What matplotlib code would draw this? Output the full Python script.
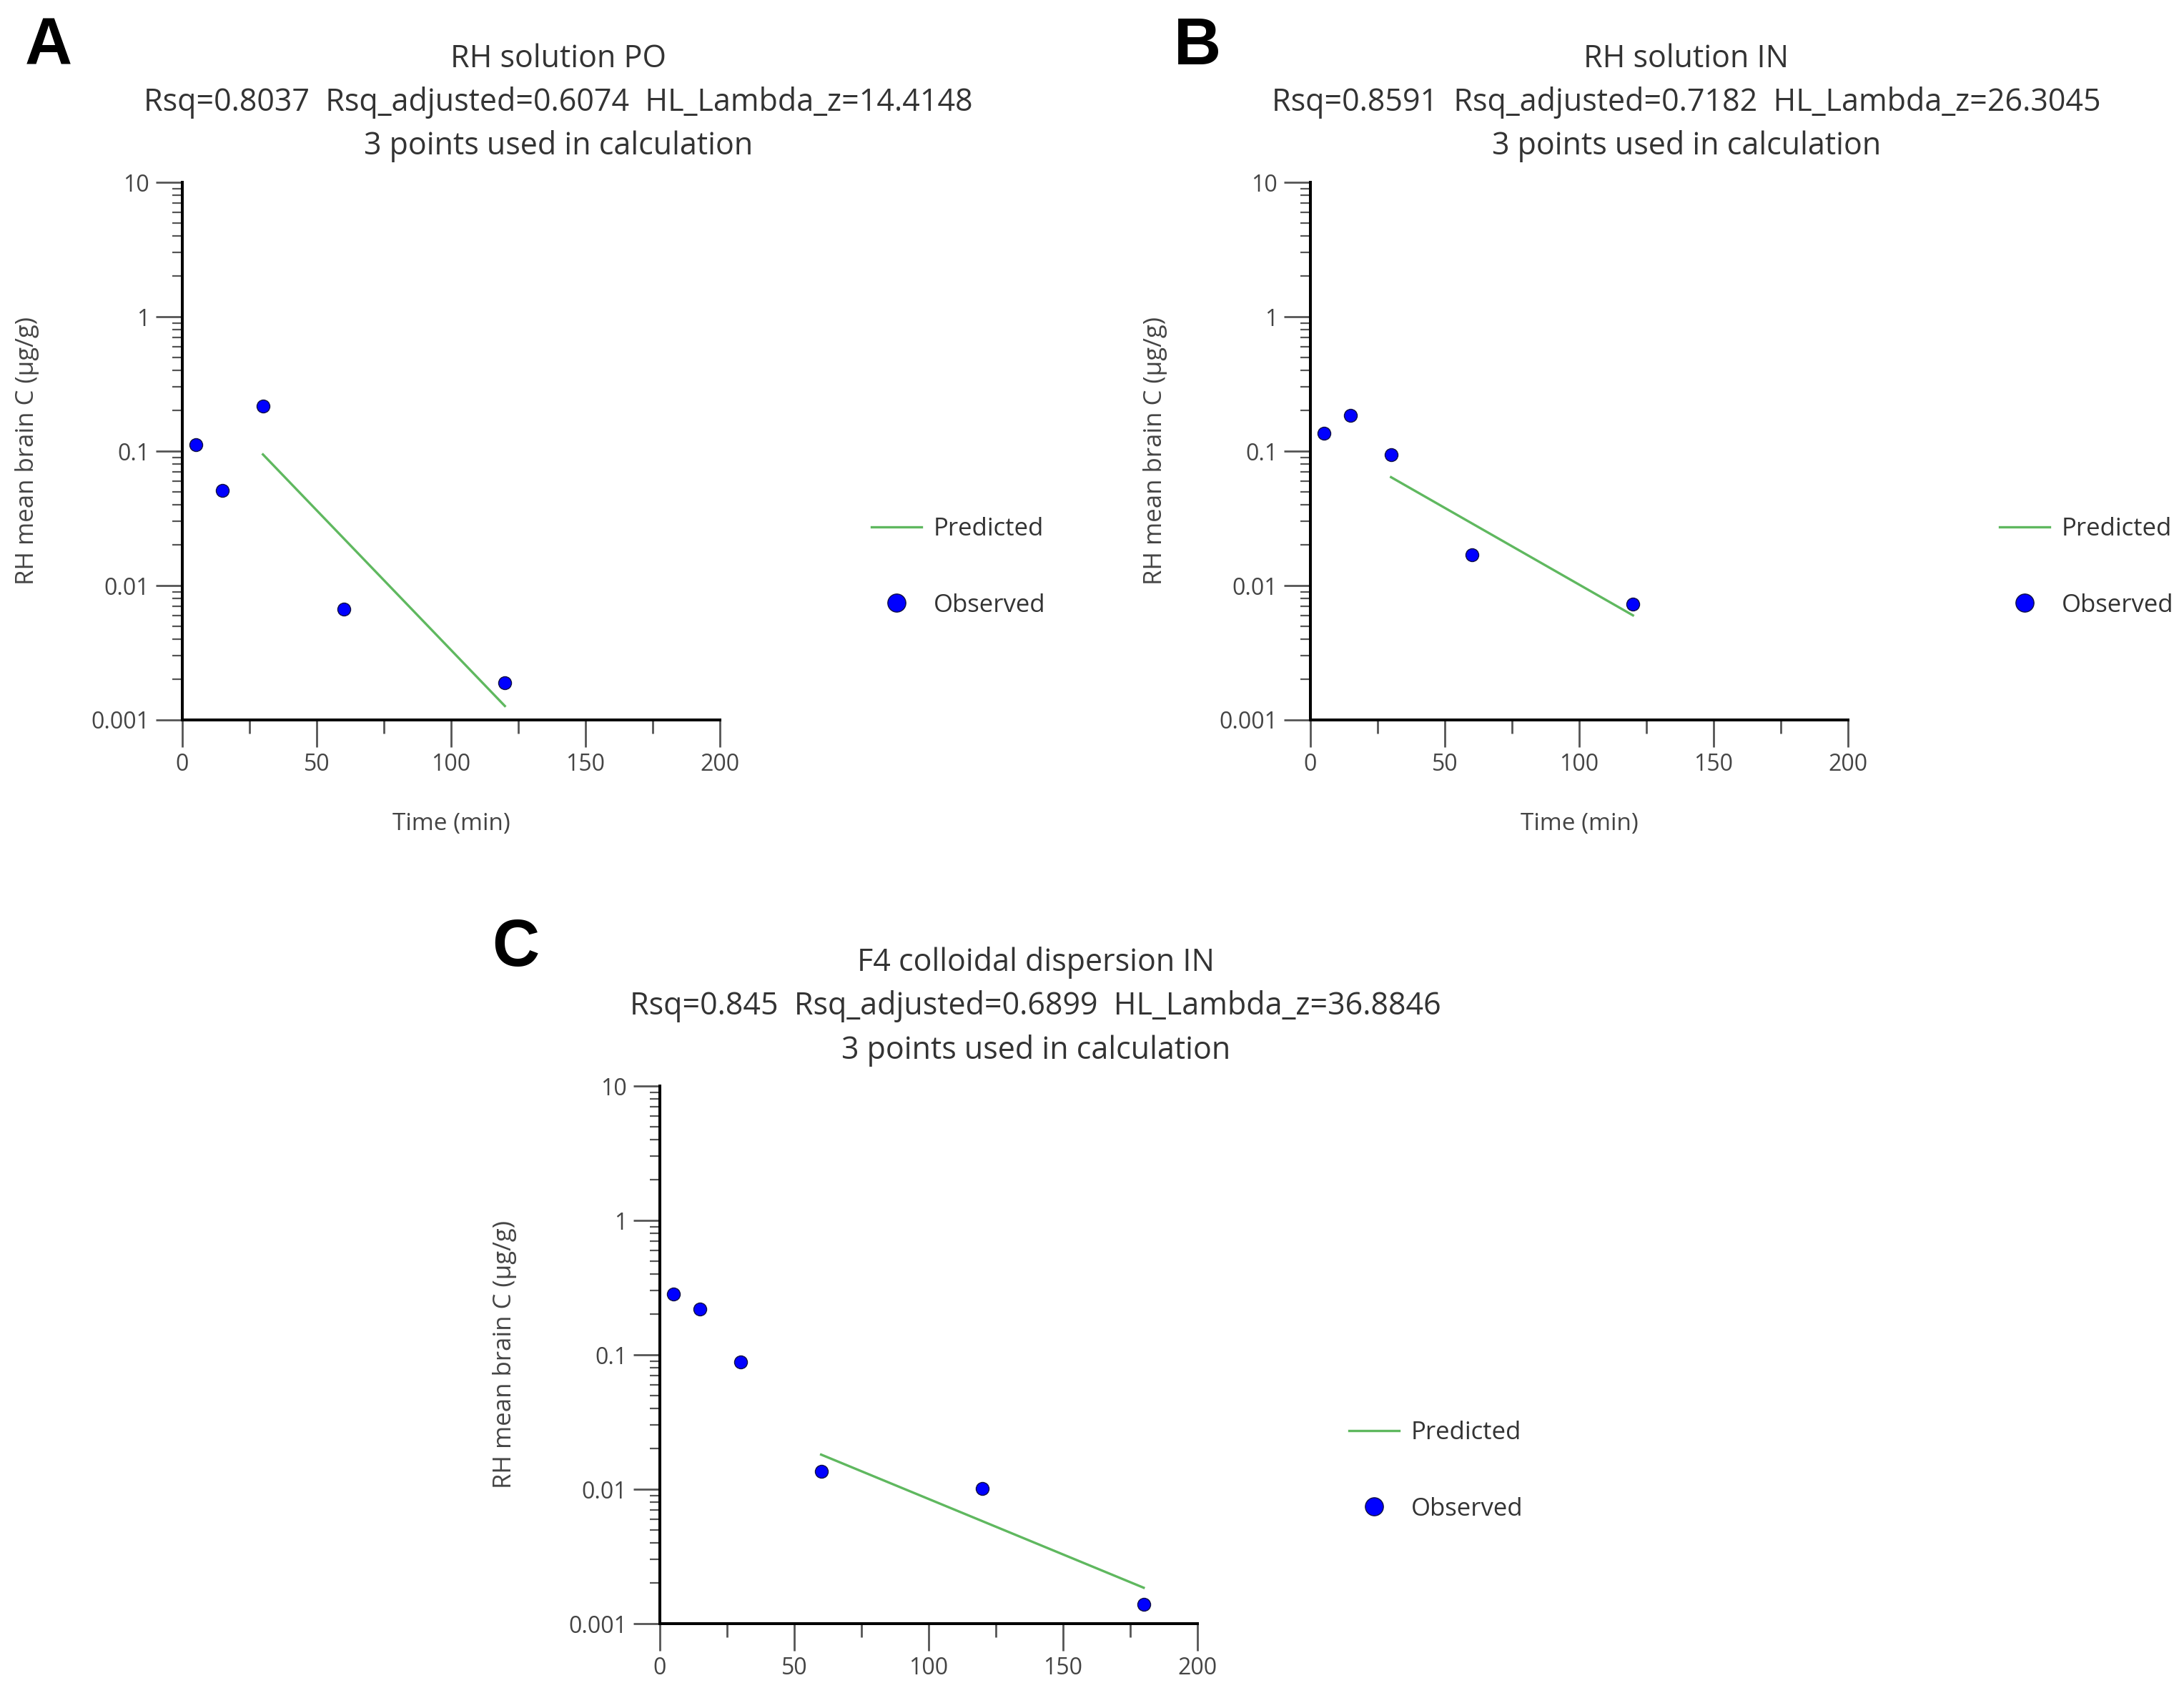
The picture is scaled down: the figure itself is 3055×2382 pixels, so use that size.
import numpy as np
import matplotlib
matplotlib.use("Agg")
import matplotlib.pyplot as plt
from matplotlib.ticker import FixedLocator, LogLocator, NullFormatter, FuncFormatter, MultipleLocator

plt.rcParams['font.family'] = ['Open Sans', 'DejaVu Sans']

# sampling times (min) and observed brain concentrations (ug/g)
time_po = [5, 15, 30, 60, 120]
conc_po = [0.112, 0.051, 0.216, 0.0067, 0.0019]
pred_time_po = [30, 120]
pred_conc_po = [0.0945, 0.00127]

time_in = [5, 15, 30, 60, 120]
conc_in = [0.136, 0.184, 0.094, 0.0170, 0.0073]
pred_time_in = [30, 120]
pred_conc_in = [0.064, 0.0060]

time_f4 = [5, 15, 30, 60, 120, 180]
conc_f4 = [0.284, 0.220, 0.088, 0.0135, 0.0101, 0.00139]
pred_time_f4 = [60, 180]
pred_conc_f4 = [0.0181, 0.00185]

titles = ["RH solution PO", "RH solution IN", "F4 colloidal dispersion IN"]
stats_lines = [
    "Rsq=0.8037  Rsq_adjusted=0.6074  HL_Lambda_z=14.4148",
    "Rsq=0.8591  Rsq_adjusted=0.7182  HL_Lambda_z=26.3045",
    "Rsq=0.845  Rsq_adjusted=0.6899  HL_Lambda_z=36.8846",
]
panel_letters = ["A", "B", "C"]
y_ticks = [0.001, 0.01, 0.1, 1, 10]
x_ticks = [0, 50, 100, 150, 200]

W, H = 3055, 2382
fig = plt.figure(figsize=(W / 100, H / 100), dpi=100)

# axes boxes in pixels: left, top
boxes = [(255, 255), (1833, 255), (923, 1519)]
size = 752

text_col = '#333333'
tick_col = '#555555'
green = '#5fb85f'
blue = '#0000ff'


def draw_panel(ax, t, c, pt, pc, title, stats, show_xlabel):
    ax.plot(pt, pc, color=green, lw=2.4, label='Predicted', zorder=2)
    ax.plot(t, c, 'o', color=blue, mec='#101040', mew=1.0, ms=13,
            label='Observed', zorder=3)
    ax.set_yscale('log')
    ax.set_ylim(0.001, 10)
    ax.set_xlim(0, 200)
    ax.yaxis.set_major_locator(FixedLocator(y_ticks))
    ax.yaxis.set_major_formatter(FuncFormatter(lambda v, p: '%g' % v))
    ax.yaxis.set_minor_locator(LogLocator(base=10, subs=np.arange(2, 10)))
    ax.yaxis.set_minor_formatter(NullFormatter())
    ax.xaxis.set_major_locator(FixedLocator(x_ticks))
    ax.xaxis.set_minor_locator(MultipleLocator(25))
    for s in ['top', 'right']:
        ax.spines[s].set_visible(False)
    for s in ['left', 'bottom']:
        ax.spines[s].set_linewidth(2.9)
        ax.spines[s].set_color('black')
    ax.tick_params(which='major', length=27, width=2.0, color=tick_col,
                   labelsize=23, labelcolor='#444444', pad=6)
    ax.tick_params(axis='y', which='minor', length=10, width=1.6, color=tick_col)
    ax.tick_params(axis='x', which='minor', length=14, width=2.0, color=tick_col)
    ax.set_ylabel('RH mean brain C (\u00b5g/g)', fontsize=25, color='#444444')
    ax.yaxis.set_label_coords(-0.266, 0.5)
    if show_xlabel:
        ax.set_xlabel('Time (min)', fontsize=24, color='#444444')
        ax.xaxis.set_label_coords(0.5, -0.171)
    ax.text(0.699, 1.148, title + "\n" + stats + "\n3 points used in calculation",
            transform=ax.transAxes, ha='center', va='center', fontsize=31,
            color=text_col, linespacing=1.48)
    leg = ax.legend(loc='center left', bbox_to_anchor=(1.282, 0.284),
                    frameon=False, fontsize=25, handlelength=2.0,
                    handletextpad=0.5, labelspacing=2.08, borderpad=0,
                    borderaxespad=0, markerscale=1.4)
    for txt in leg.get_texts():
        txt.set_color(text_col)


data = [
    (time_po, conc_po, pred_time_po, pred_conc_po),
    (time_in, conc_in, pred_time_in, pred_conc_in),
    (time_f4, conc_f4, pred_time_f4, pred_conc_f4),
]

for i, (left, top) in enumerate(boxes):
    ax = fig.add_axes([left / W, (H - top - size) / H, size / W, size / H])
    t, c, pt, pc = data[i]
    draw_panel(ax, t, c, pt, pc, titles[i], stats_lines[i], show_xlabel=(i < 2))

letter_pos = [(68, 66), (1675, 66), (721, 1327)]
for letter, (x, y) in zip(panel_letters, letter_pos):
    fig.text(x / W, 1 - y / H, letter, fontsize=66, fontweight='bold',
             family='Liberation Sans', ha='center', va='center', color='black')

fig.savefig('out.png', dpi=100, facecolor='white')
